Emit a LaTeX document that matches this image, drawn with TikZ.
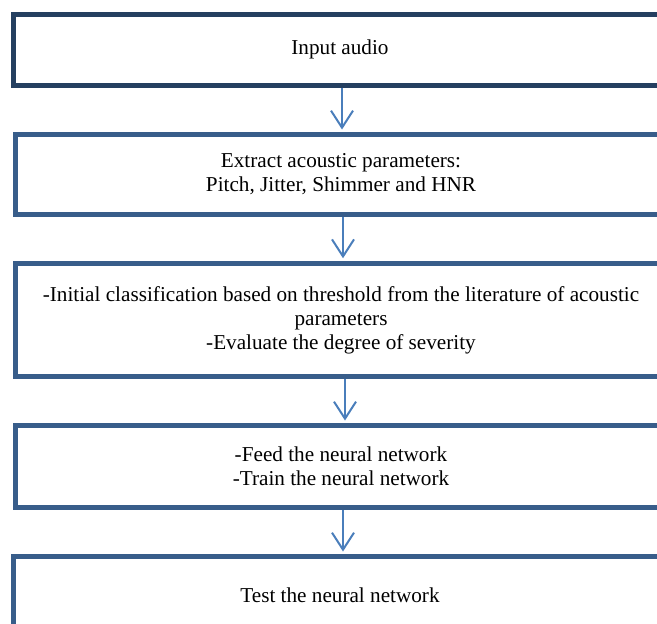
\documentclass[tikz,border=0pt]{standalone}
\usepackage{fontspec}
\setmainfont{Liberation Serif}
\usetikzlibrary{arrows.meta, positioning}

\definecolor{boxdark}{HTML}{243F60}
\definecolor{boxblue}{HTML}{385D8A}
\definecolor{arrblue}{HTML}{4A7EBB}

\begin{document}
\begin{tikzpicture}[x=1pt, y=-1pt,
        b/.style={rectangle, draw=boxblue, line width=5pt, fill=white,
                  align=center, minimum width=652pt, inner sep=0pt,
                  font=\fontsize{21.2}{24}\selectfont},
        arr/.style={-{Straight Barb[length=17pt,width=22pt,line width=2pt]},
                    line width=2pt, arrblue, shorten >=2.5pt}]
      \clip (0,0) rectangle (657,624);
      \node[b, draw=boxdark, minimum height=71pt, minimum width=654pt] (in) at (340,49.5) {Input audio};
      \node[b, minimum height=80pt] (ex) at (341,174.5) {Extract acoustic parameters:\\Pitch, Jitter, Shimmer and HNR};
      \node[b, minimum height=113.5pt] (cl) at (341,320) {-Initial classification based on threshold from the literature of acoustic\\parameters\\-Evaluate the degree of severity};
      \node[b, minimum height=82pt] (tr) at (341,466.5) {-Feed the neural network\\-Train the neural network};
      \node[b, minimum height=77pt, minimum width=654pt] (te) at (340,595) {Test the neural network};
      \draw[arr] ([xshift=2pt]in.south) -- ([xshift=1pt]ex.north);
      \draw[arr] ([xshift=2pt]ex.south) -- ([xshift=2pt]cl.north);
      \draw[arr] ([xshift=4pt]cl.south) -- ([xshift=4pt]tr.north);
      \draw[arr] ([xshift=2pt]tr.south) -- ([xshift=3pt]te.north);
    \end{tikzpicture}
\end{document}
